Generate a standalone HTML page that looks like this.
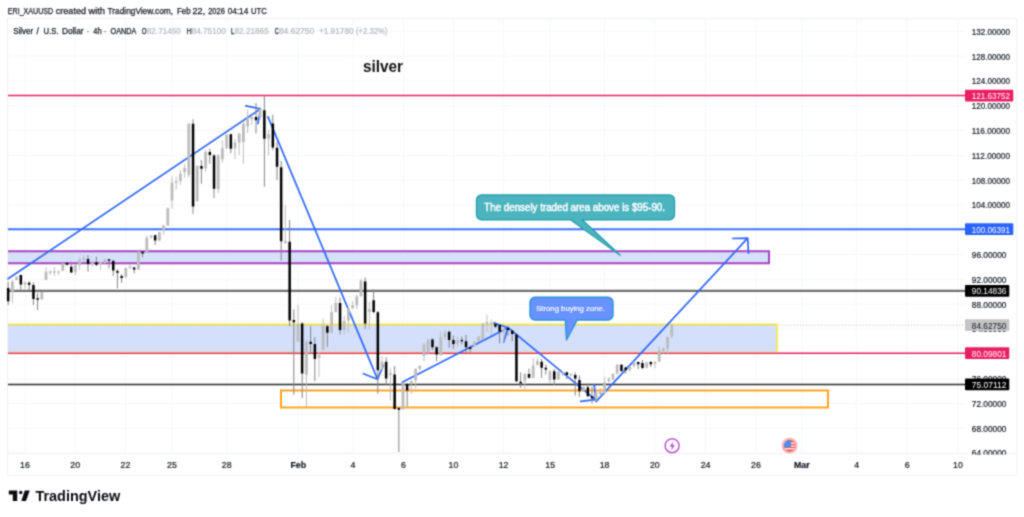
<!DOCTYPE html>
<html lang="en">
<head>
<meta charset="utf-8">
<title>Silver / U.S. Dollar chart</title>
<style>
html,body{margin:0;padding:0;background:#fff;}
body{width:1024px;height:517px;overflow:hidden;font-family:"Liberation Sans", sans-serif;}
svg{display:block;}
</style>
</head>
<body>
<svg width="1024" height="517" viewBox="0 0 1024 517">
<defs><filter id="soft" x="0" y="0" width="1024" height="517" filterUnits="userSpaceOnUse" color-interpolation-filters="sRGB"><feConvolveMatrix order="3" kernelMatrix="1 3 1 3 9 3 1 3 1" divisor="25" edgeMode="duplicate" preserveAlpha="false"/></filter></defs>
<g filter="url(#soft)">
<rect width="1024" height="517" fill="#fff"/>
<g stroke="#f6f7fa" stroke-width="1" fill="none"><line x1="25" y1="19" x2="25" y2="453.5"/><line x1="75.2" y1="19" x2="75.2" y2="453.5"/><line x1="125.5" y1="19" x2="125.5" y2="453.5"/><line x1="172" y1="19" x2="172" y2="453.5"/><line x1="226.7" y1="19" x2="226.7" y2="453.5"/><line x1="298.3" y1="19" x2="298.3" y2="453.5"/><line x1="353" y1="19" x2="353" y2="453.5"/><line x1="403.5" y1="19" x2="403.5" y2="453.5"/><line x1="453.5" y1="19" x2="453.5" y2="453.5"/><line x1="503.6" y1="19" x2="503.6" y2="453.5"/><line x1="550.2" y1="19" x2="550.2" y2="453.5"/><line x1="604.6" y1="19" x2="604.6" y2="453.5"/><line x1="654.8" y1="19" x2="654.8" y2="453.5"/><line x1="705.6" y1="19" x2="705.6" y2="453.5"/><line x1="756" y1="19" x2="756" y2="453.5"/><line x1="801.8" y1="19" x2="801.8" y2="453.5"/><line x1="856.6" y1="19" x2="856.6" y2="453.5"/><line x1="907.1" y1="19" x2="907.1" y2="453.5"/><line x1="957.9" y1="19" x2="957.9" y2="453.5"/><line x1="8" y1="453.0" x2="965" y2="453.0"/><line x1="8" y1="428.2" x2="965" y2="428.2"/><line x1="8" y1="403.4" x2="965" y2="403.4"/><line x1="8" y1="378.6" x2="965" y2="378.6"/><line x1="8" y1="353.8" x2="965" y2="353.8"/><line x1="8" y1="329.0" x2="965" y2="329.0"/><line x1="8" y1="304.2" x2="965" y2="304.2"/><line x1="8" y1="279.4" x2="965" y2="279.4"/><line x1="8" y1="254.6" x2="965" y2="254.6"/><line x1="8" y1="229.8" x2="965" y2="229.8"/><line x1="8" y1="205.0" x2="965" y2="205.0"/><line x1="8" y1="180.2" x2="965" y2="180.2"/><line x1="8" y1="155.4" x2="965" y2="155.4"/><line x1="8" y1="130.6" x2="965" y2="130.6"/><line x1="8" y1="105.8" x2="965" y2="105.8"/><line x1="8" y1="81.0" x2="965" y2="81.0"/><line x1="8" y1="56.1" x2="965" y2="56.1"/><line x1="8" y1="31.3" x2="965" y2="31.3"/></g>
<rect x="7.5" y="18.7" width="1009.2" height="456.8" fill="none" stroke="#eff1f4" stroke-width="1"/>
<line x1="8" y1="453.6" x2="1016" y2="453.6" stroke="#eff1f4"/>
<rect x="8" y="251.2" width="761" height="12" fill="#d6e0fb" stroke="none"/>
<rect x="8" y="324.4" width="769" height="28.5" fill="#d3dffb" stroke="none"/>
<path d="M8 251.2H769V263.2H8" fill="none" stroke="#a843be" stroke-width="2"/>
<rect x="281" y="390.5" width="547" height="17" fill="none" stroke="#ffa21f" stroke-width="2"/>
<line x1="8" y1="95.6" x2="966" y2="95.6" stroke-width="1.5" stroke="#e91e63" />
<line x1="8" y1="229.2" x2="966" y2="229.2" stroke-width="2.1" stroke="#3d70ff" />
<line x1="8" y1="290.8" x2="966" y2="290.8" stroke-width="2.2" stroke="#6e6e6e" />
<line x1="8" y1="353.2" x2="966" y2="353.2" stroke-width="1.5" stroke="#e91e63" />
<line x1="8" y1="384.4" x2="966" y2="384.4" stroke-width="1.5" stroke="#2a2a2a" />
<line x1="8" y1="325.2" x2="966" y2="325.2" stroke="#b8b8b8" stroke-width="1" stroke-dasharray="1 2"/>
<path d="M8 324.4H777V352.6" fill="none" stroke="#f6e640" stroke-width="1.6"/>
<path d="M8 352.3H777" fill="none" stroke="#f5c83c" stroke-width="1.2" opacity="0.55"/>
<g stroke="#2f67ff" stroke-width="1.7" fill="none" stroke-linecap="round" stroke-linejoin="round"><path d="M8.0 278.8L260.5 108.9M245.8 105.8L260.5 108.9L257.9 123.7"/><path d="M268.0 116.9L377.5 379.2M383.4 365.4L377.5 379.2L363.5 373.7"/><path d="M402.3 382.3L508.0 327.7M493.8 322.9L508.0 327.7L503.7 342.1"/><path d="M508.0 327.7L595.5 399.7M594.3 384.7L595.5 399.7L580.6 401.4"/><path d="M596.0 401.6L747.7 238.2M732.7 238.5L747.7 238.2L748.5 253.2"/></g>
<path d="M12.4 280.0V302.9M16.6 276.0V280.5M25.0 281.7V288.4M41.8 291.7V299.5M46.0 267.2V280.0M50.2 270.0V275.0M54.4 267.2V276.2M58.6 270.0V275.0M62.8 262.8V271.7M75.4 264.5V275.0M79.6 257.8V270.0M83.8 255.6V261.7M92.2 260.6V266.7M100.6 261.7V270.0M104.8 258.9V264.5M125.8 267.3V278.5M130.0 264.0V269.0M138.4 251.2V270.1M146.8 235.6V252.3M151.0 235.0V238.9M159.4 231.7V241.7M163.6 225.0V234.5M167.8 207.6V226.0M172.0 176.5V208.7M176.2 176.5V189.8M180.4 170.0V184.8M184.6 163.8V177.6M188.8 123.0V177.6M197.2 165.0V202.0M205.6 150.0V172.0M218.2 154.0V193.2M222.4 140.4V162.7M226.6 134.3V148.7M235.0 139.3V159.3M239.2 132.6V154.9M243.4 121.5V163.8M247.6 109.7V133.0M251.8 115.8V125.3M260.2 107.0V120.0M268.6 130.0V155.6M285.4 205.0V244.0M298.0 305.0V342.0M306.4 340.0V407.0M319.0 352.0V377.0M323.2 318.4V350.6M331.6 305.0V333.0M335.8 297.0V312.5M344.2 316.0V335.0M348.4 307.0V332.8M352.6 301.4V309.2M356.8 294.7V309.2M361.0 279.1V297.0M369.4 301.4V330.0M382.0 356.0V370.0M390.4 368.4V400.7M403.0 382.0V410.0M411.4 380.6V394.0M415.6 368.0V388.4M419.8 365.0V370.6M424.0 343.4V361.2M428.2 339.0V354.5M440.8 331.2V355.7M445.0 330.0V340.0M457.6 336.7V346.7M474.4 341.2V347.3M478.6 336.0V342.0M482.8 322.8V340.0M487.0 314.5V332.3M491.2 319.5V335.0M503.8 327.8V342.3M524.8 373.0V389.0M533.2 357.8V378.4M537.4 357.8V365.6M550.0 370.0V383.4M558.4 371.0V380.0M562.6 371.5V376.0M571.0 373.0V377.0M583.6 386.0V392.0M596.2 391.2V401.2M600.4 388.0V396.0M604.6 376.7V394.5M608.8 377.0V383.0M613.0 373.0V380.5M617.2 364.0V374.5M629.8 366.0V371.5M634.0 361.0V367.5M646.6 361.5V368.5M655.0 361.0V368.1M659.2 346.4V362.0M663.4 347.5V353.6M667.6 336.4V353.6M671.8 324.0V338.6" stroke="#bdbdbd" stroke-width="1" fill="none"/>
<path d="M8.2 281.7V305.1M20.8 274.5V289.5M29.2 281.2V290.6M33.4 282.3V305.0M37.6 292.9V310.0M67.0 262.2V265.6M71.2 264.5V272.8M88.0 255.0V271.7M96.4 256.7V266.1M109.0 259.0V268.4M113.2 259.5V276.2M117.4 269.0V288.4M121.6 274.0V283.0M134.2 266.8V273.4M142.6 250.6V257.3M155.2 234.5V245.0M193.0 119.2V213.8M201.4 160.0V183.7M209.8 148.7V163.8M214.0 154.0V198.2M230.8 133.7V153.2M256.0 103.0V133.6M264.4 95.2V186.7M272.8 114.7V150.0M277.0 142.0V180.0M281.2 161.0V260.6M289.6 220.0V326.2M293.8 309.5V394.7M302.2 322.0V398.0M310.6 326.2V354.0M314.8 337.3V381.4M327.4 325.0V346.8M340.0 297.5V334.5M365.2 277.5V329.0M373.6 289.2V313.4M377.8 311.0V393.6M386.2 357.2V385.0M394.6 366.0V409.5M398.8 407.0V452.0M407.2 383.0V406.4M432.4 338.4V350.0M436.6 346.0V361.2M449.2 330.6V347.9M453.4 335.6V349.0M461.8 336.7V344.5M466.0 335.0V352.9M470.2 345.6V352.3M495.4 322.0V328.0M499.6 323.9V343.4M508.0 326.7V335.6M512.2 330.0V341.2M516.4 333.0V382.0M520.6 372.3V387.9M529.0 368.4V378.4M541.6 359.0V377.8M545.8 364.5V374.5M554.2 369.0V385.0M566.8 371.7V379.0M575.2 372.3V395.7M579.4 375.6V396.8M587.8 383.4V396.8M592.0 386.7V403.5M621.4 364.0V372.0M625.6 366.5V373.7M638.2 361.5V369.2M642.4 359.8V369.2M650.8 361.0V367.0" stroke="#848484" stroke-width="1" fill="none"/>
<path d="M11.0 281.7h2.8V291.7h-2.8zM15.2 276.7h2.8V280.0h-2.8zM23.6 282.3h2.8V284.5h-2.8zM40.4 292.3h2.8V299.5h-2.8zM44.6 271.7h2.8V280.0h-2.8zM48.8 271.6h2.8V272.8h-2.8zM53.0 271.6h2.8V272.8h-2.8zM57.2 271.4h2.8V272.6h-2.8zM61.4 263.4h2.8V270.6h-2.8zM74.0 265.0h2.8V272.3h-2.8zM78.2 259.5h2.8V265.0h-2.8zM82.4 258.3h2.8V260.0h-2.8zM90.8 262.8h2.8V264.0h-2.8zM99.2 262.2h2.8V263.9h-2.8zM103.4 259.5h2.8V262.8h-2.8zM124.4 267.9h2.8V276.8h-2.8zM128.6 266.7h2.8V267.9h-2.8zM137.0 251.7h2.8V269.5h-2.8zM145.4 237.8h2.8V251.7h-2.8zM149.6 235.6h2.8V237.2h-2.8zM158.0 232.2h2.8V240.6h-2.8zM162.2 225.6h2.8V230.6h-2.8zM166.4 208.2h2.8V225.5h-2.8zM170.6 182.6h2.8V200.4h-2.8zM174.8 181.5h2.8V183.1h-2.8zM179.0 173.7h2.8V180.9h-2.8zM183.2 168.0h2.8V172.0h-2.8zM187.4 123.7h2.8V175.0h-2.8zM195.8 166.0h2.8V201.0h-2.8zM204.2 152.0h2.8V168.2h-2.8zM216.8 155.4h2.8V189.3h-2.8zM221.0 148.2h2.8V159.3h-2.8zM225.2 134.8h2.8V148.2h-2.8zM233.6 142.6h2.8V148.2h-2.8zM237.8 133.7h2.8V142.6h-2.8zM242.0 123.7h2.8V142.0h-2.8zM246.2 118.6h2.8V126.4h-2.8zM250.4 117.0h2.8V119.2h-2.8zM258.8 109.0h2.8V117.0h-2.8zM267.2 134.2h2.8V138.7h-2.8zM284.0 241.0h2.8V243.0h-2.8zM296.6 324.0h2.8V341.7h-2.8zM305.0 341.7h2.8V374.7h-2.8zM317.6 355.0h2.8V358.0h-2.8zM321.8 325.0h2.8V349.5h-2.8zM330.2 312.2h2.8V332.8h-2.8zM334.4 303.0h2.8V312.0h-2.8zM342.8 321.1h2.8V330.0h-2.8zM347.0 308.3h2.8V320.6h-2.8zM351.2 305.3h2.8V308.0h-2.8zM355.4 296.4h2.8V305.3h-2.8zM359.6 280.8h2.8V295.8h-2.8zM368.0 309.0h2.8V312.0h-2.8zM380.6 361.7h2.8V369.5h-2.8zM389.0 373.0h2.8V375.0h-2.8zM401.6 383.4h2.8V409.1h-2.8zM410.0 381.0h2.8V384.0h-2.8zM414.2 369.0h2.8V380.6h-2.8zM418.4 366.0h2.8V369.0h-2.8zM422.6 344.5h2.8V355.7h-2.8zM426.8 339.5h2.8V352.3h-2.8zM439.4 337.3h2.8V355.1h-2.8zM443.6 332.8h2.8V337.3h-2.8zM456.2 340.0h2.8V343.4h-2.8zM473.0 341.7h2.8V346.2h-2.8zM477.2 336.7h2.8V341.2h-2.8zM481.4 323.4h2.8V339.5h-2.8zM485.6 322.0h2.8V324.0h-2.8zM489.8 323.0h2.8V325.0h-2.8zM502.4 328.4h2.8V332.3h-2.8zM523.4 374.0h2.8V381.0h-2.8zM531.8 365.6h2.8V377.8h-2.8zM536.0 361.1h2.8V365.0h-2.8zM548.6 371.2h2.8V380.0h-2.8zM557.0 371.7h2.8V379.5h-2.8zM561.2 372.3h2.8V374.0h-2.8zM569.6 373.9h2.8V375.2h-2.8zM582.2 387.3h2.8V390.6h-2.8zM594.8 392.3h2.8V399.0h-2.8zM599.0 392.0h2.8V394.0h-2.8zM603.2 382.3h2.8V393.4h-2.8zM607.4 379.0h2.8V381.2h-2.8zM611.6 374.0h2.8V379.5h-2.8zM615.8 364.8h2.8V373.7h-2.8zM628.4 367.0h2.8V370.3h-2.8zM632.6 362.0h2.8V366.0h-2.8zM645.2 362.5h2.8V367.6h-2.8zM653.6 362.0h2.8V363.7h-2.8zM657.8 350.3h2.8V361.4h-2.8zM662.0 348.6h2.8V350.9h-2.8zM666.2 337.0h2.8V348.6h-2.8zM670.4 324.7h2.8V336.4h-2.8z" fill="#bcbcbc"/>
<path d="M6.9 287.9h2.5V301.2h-2.5zM19.6 275.0h2.5V284.5h-2.5zM27.9 282.8h2.5V284.8h-2.5zM32.2 285.0h2.5V299.0h-2.5zM36.4 298.2h2.5V299.8h-2.5zM65.8 262.8h2.5V264.8h-2.5zM70.0 266.7h2.5V272.6h-2.5zM86.8 258.9h2.5V263.9h-2.5zM95.2 262.2h2.5V264.8h-2.5zM107.8 259.2h2.5V260.8h-2.5zM112.0 261.1h2.5V270.6h-2.5zM116.2 271.1h2.5V272.7h-2.5zM120.4 276.0h2.5V278.0h-2.5zM132.9 267.6h2.5V269.5h-2.5zM141.3 251.7h2.5V253.4h-2.5zM153.9 235.2h2.5V240.6h-2.5zM191.8 123.7h2.5V206.5h-2.5zM200.2 166.0h2.5V168.8h-2.5zM208.6 152.0h2.5V154.9h-2.5zM212.8 155.4h2.5V188.7h-2.5zM229.6 134.3h2.5V148.7h-2.5zM254.8 117.0h2.5V120.3h-2.5zM263.1 110.3h2.5V138.7h-2.5zM271.6 123.6h2.5V147.6h-2.5zM275.8 147.8h2.5V166.7h-2.5zM279.9 167.3h2.5V241.2h-2.5zM288.4 241.8h2.5V320.6h-2.5zM292.6 320.0h2.5V322.3h-2.5zM300.9 323.4h2.5V373.6h-2.5zM309.4 341.7h2.5V344.0h-2.5zM313.6 344.0h2.5V359.0h-2.5zM326.1 326.2h2.5V332.8h-2.5zM338.8 303.0h2.5V330.0h-2.5zM363.9 281.4h2.5V323.4h-2.5zM372.4 300.3h2.5V312.0h-2.5zM376.6 312.2h2.5V370.2h-2.5zM384.9 361.7h2.5V378.4h-2.5zM393.4 374.5h2.5V409.1h-2.5zM397.6 408.0h2.5V409.7h-2.5zM405.9 384.0h2.5V390.6h-2.5zM431.2 339.5h2.5V347.3h-2.5zM435.4 347.3h2.5V354.5h-2.5zM447.9 331.7h2.5V340.0h-2.5zM452.2 340.0h2.5V344.0h-2.5zM460.6 340.0h2.5V341.2h-2.5zM464.8 341.2h2.5V347.3h-2.5zM468.9 347.3h2.5V349.0h-2.5zM494.2 323.9h2.5V326.7h-2.5zM498.4 325.0h2.5V331.7h-2.5zM506.8 327.8h2.5V330.0h-2.5zM511.0 330.6h2.5V334.0h-2.5zM515.2 334.5h2.5V381.2h-2.5zM519.4 381.7h2.5V383.4h-2.5zM527.8 374.0h2.5V377.8h-2.5zM540.4 361.7h2.5V367.8h-2.5zM544.6 367.8h2.5V369.5h-2.5zM553.0 371.2h2.5V379.5h-2.5zM565.6 372.3h2.5V375.0h-2.5zM574.0 375.0h2.5V378.4h-2.5zM578.2 380.0h2.5V391.2h-2.5zM586.6 387.3h2.5V396.2h-2.5zM590.8 396.2h2.5V398.4h-2.5zM620.2 364.8h2.5V370.9h-2.5zM624.4 367.5h2.5V370.3h-2.5zM637.0 362.0h2.5V364.2h-2.5zM641.2 363.1h2.5V368.1h-2.5zM649.6 362.0h2.5V364.2h-2.5z" fill="#000"/>

<path d="M481.5 195h188a5 5 0 0 1 5 5v14.8a5 5 0 0 1 -5 5h-87.3l38 35.4l-49.7 -35.4h-89a5 5 0 0 1 -5 -5v-14.8a5 5 0 0 1 5 -5z" fill="#4cb4bf" stroke="#27a0ae" stroke-width="1.4" stroke-linejoin="round"/>
<text x="484.3" y="210.8" font-family='"Liberation Sans", sans-serif' font-size="10" fill="#fff" stroke="#fff" stroke-width="0.45" textLength="180.7" lengthAdjust="spacingAndGlyphs">The densely traded area above is $95-90.</text>
<path d="M535 297.2h73a5 5 0 0 1 5 5v12.8a5 5 0 0 1 -5 5h-30.8l-10.7 20l-1.2 -20h-30.3a5 5 0 0 1 -5 -5v-12.8a5 5 0 0 1 5 -5z" fill="#6792ff" stroke="#2a93dc" stroke-width="1.4" stroke-linejoin="round"/>
<text x="536.2" y="311.2" font-family='"Liberation Sans", sans-serif' font-size="7.6" fill="#fff" stroke="#fff" stroke-width="0.15" textLength="68.8" lengthAdjust="spacingAndGlyphs">Strong buying zone.</text>
<clipPath id="axc"><rect x="960" y="19" width="60" height="435.6"/></clipPath>
<g font-family='"Liberation Sans", sans-serif' font-size="9" fill="#131722" stroke="#131722" stroke-width="0.2" clip-path="url(#axc)"><text x="971.8" y="456.4" textLength="34.6" lengthAdjust="spacingAndGlyphs">64.00000</text><text x="971.8" y="431.6" textLength="34.6" lengthAdjust="spacingAndGlyphs">68.00000</text><text x="971.8" y="406.8" textLength="34.6" lengthAdjust="spacingAndGlyphs">72.00000</text><text x="971.8" y="382.0" textLength="34.6" lengthAdjust="spacingAndGlyphs">76.00000</text><text x="971.8" y="357.2" textLength="34.6" lengthAdjust="spacingAndGlyphs">80.00000</text><text x="971.8" y="332.4" textLength="34.6" lengthAdjust="spacingAndGlyphs">84.00000</text><text x="971.8" y="307.6" textLength="34.6" lengthAdjust="spacingAndGlyphs">88.00000</text><text x="971.8" y="282.8" textLength="34.6" lengthAdjust="spacingAndGlyphs">92.00000</text><text x="971.8" y="258.0" textLength="34.6" lengthAdjust="spacingAndGlyphs">96.00000</text><text x="971.8" y="233.2" textLength="38.2" lengthAdjust="spacingAndGlyphs">100.00000</text><text x="971.8" y="208.4" textLength="38.2" lengthAdjust="spacingAndGlyphs">104.00000</text><text x="971.8" y="183.6" textLength="38.2" lengthAdjust="spacingAndGlyphs">108.00000</text><text x="971.8" y="158.8" textLength="38.2" lengthAdjust="spacingAndGlyphs">112.00000</text><text x="971.8" y="134.0" textLength="38.2" lengthAdjust="spacingAndGlyphs">116.00000</text><text x="971.8" y="109.2" textLength="38.2" lengthAdjust="spacingAndGlyphs">120.00000</text><text x="971.8" y="84.4" textLength="38.2" lengthAdjust="spacingAndGlyphs">124.00000</text><text x="971.8" y="59.5" textLength="38.2" lengthAdjust="spacingAndGlyphs">128.00000</text><text x="971.8" y="34.7" textLength="38.2" lengthAdjust="spacingAndGlyphs">132.00000</text></g>
<rect x="965" y="89.7" width="48.3" height="11.8" rx="1" fill="#e91e63"/><text x="971.8" y="98.9" font-family='"Liberation Sans", sans-serif' font-size="9" fill="#fff" textLength="38.2" lengthAdjust="spacingAndGlyphs">121.63752</text>
<rect x="965" y="223.3" width="48.3" height="11.8" rx="1" fill="#2962ff"/><text x="971.8" y="232.5" font-family='"Liberation Sans", sans-serif' font-size="9" fill="#fff" textLength="38.2" lengthAdjust="spacingAndGlyphs">100.06391</text>
<rect x="965" y="284.9" width="44.3" height="11.8" rx="1" fill="#000"/><text x="971.8" y="294.1" font-family='"Liberation Sans", sans-serif' font-size="9" fill="#fff" textLength="34.6" lengthAdjust="spacingAndGlyphs">90.14836</text>
<rect x="965" y="319.3" width="44.3" height="11.8" rx="1" fill="#c4c4c4"/><text x="971.8" y="328.5" font-family='"Liberation Sans", sans-serif' font-size="9" fill="#131722" textLength="34.6" lengthAdjust="spacingAndGlyphs">84.62750</text>
<rect x="965" y="347.3" width="44.3" height="11.8" rx="1" fill="#e91e63"/><text x="971.8" y="356.5" font-family='"Liberation Sans", sans-serif' font-size="9" fill="#fff" textLength="34.6" lengthAdjust="spacingAndGlyphs">80.09801</text>
<rect x="965" y="378.5" width="44.3" height="11.8" rx="1" fill="#000"/><text x="971.8" y="387.7" font-family='"Liberation Sans", sans-serif' font-size="9" fill="#fff" textLength="34.6" lengthAdjust="spacingAndGlyphs">75.07112</text>
<g font-family='"Liberation Sans", sans-serif' font-size="8.8" fill="#131722" stroke="#131722" stroke-width="0.2"><text x="25" y="468.4" text-anchor="middle">16</text><text x="75.2" y="468.4" text-anchor="middle">20</text><text x="125.5" y="468.4" text-anchor="middle">22</text><text x="172" y="468.4" text-anchor="middle">25</text><text x="226.7" y="468.4" text-anchor="middle">28</text><text x="298.3" y="468.4" text-anchor="middle" font-weight="bold">Feb</text><text x="353" y="468.4" text-anchor="middle">4</text><text x="403.5" y="468.4" text-anchor="middle">6</text><text x="453.5" y="468.4" text-anchor="middle">10</text><text x="503.6" y="468.4" text-anchor="middle">12</text><text x="550.2" y="468.4" text-anchor="middle">15</text><text x="604.6" y="468.4" text-anchor="middle">18</text><text x="654.8" y="468.4" text-anchor="middle">20</text><text x="705.6" y="468.4" text-anchor="middle">24</text><text x="756" y="468.4" text-anchor="middle">26</text><text x="801.8" y="468.4" text-anchor="middle" font-weight="bold">Mar</text><text x="856.6" y="468.4" text-anchor="middle">4</text><text x="907.1" y="468.4" text-anchor="middle">6</text><text x="957.9" y="468.4" text-anchor="middle">10</text></g>
<text y="14" font-family='"Liberation Sans", sans-serif' font-size="8.8"><tspan x="7.8" fill="#131722" stroke="#131722" stroke-width="0.25" textLength="45.4" lengthAdjust="spacingAndGlyphs">ERI_XAUUSD</tspan> <tspan x="55.8" fill="#131722" stroke="#131722" stroke-width="0.25" textLength="30.2" lengthAdjust="spacingAndGlyphs">created</tspan> <tspan x="88.4" fill="#131722" stroke="#131722" stroke-width="0.25" textLength="16.6" lengthAdjust="spacingAndGlyphs">with</tspan> <tspan x="107.6" fill="#131722" stroke="#131722" stroke-width="0.25" textLength="65.4" lengthAdjust="spacingAndGlyphs">TradingView.com,</tspan> <tspan x="176.9" fill="#131722" stroke="#131722" stroke-width="0.25" textLength="13.7" lengthAdjust="spacingAndGlyphs">Feb</tspan> <tspan x="192.5" fill="#131722" stroke="#131722" stroke-width="0.25" textLength="12.7" lengthAdjust="spacingAndGlyphs">22,</tspan> <tspan x="208.2" fill="#131722" stroke="#131722" stroke-width="0.25" textLength="16.6" lengthAdjust="spacingAndGlyphs">2026</tspan> <tspan x="227.7" fill="#131722" stroke="#131722" stroke-width="0.25" textLength="20.5" lengthAdjust="spacingAndGlyphs">04:14</tspan> <tspan x="251.1" fill="#131722" stroke="#131722" stroke-width="0.25" textLength="15.7" lengthAdjust="spacingAndGlyphs">UTC</tspan></text>
<text y="33.8" font-family='"Liberation Sans", sans-serif' font-size="8.8"><tspan x="13.2" fill="#131722" stroke="#131722" stroke-width="0.25" textLength="20.0" lengthAdjust="spacingAndGlyphs">Silver</tspan> <tspan x="36.6" fill="#131722" stroke="#131722" stroke-width="0.25" textLength="2.4" lengthAdjust="spacingAndGlyphs">/</tspan> <tspan x="43.5" fill="#131722" stroke="#131722" stroke-width="0.25" textLength="15.1" lengthAdjust="spacingAndGlyphs">U.S.</tspan> <tspan x="62" fill="#131722" stroke="#131722" stroke-width="0.25" textLength="21.5" lengthAdjust="spacingAndGlyphs">Dollar</tspan> <tspan x="87" fill="#131722" stroke="#131722" stroke-width="0.25" textLength="1.8" lengthAdjust="spacingAndGlyphs">·</tspan> <tspan x="93.2" fill="#131722" stroke="#131722" stroke-width="0.25" textLength="8.4" lengthAdjust="spacingAndGlyphs">4h</tspan> <tspan x="104" fill="#131722" stroke="#131722" stroke-width="0.25" textLength="1.8" lengthAdjust="spacingAndGlyphs">·</tspan> <tspan x="110.5" fill="#131722" stroke="#131722" stroke-width="0.25" textLength="25.4" lengthAdjust="spacingAndGlyphs">OANDA</tspan> <tspan x="141.8" fill="#131722" stroke="#131722" stroke-width="0.25" textLength="4.8" lengthAdjust="spacingAndGlyphs">O</tspan><tspan x="146.8" fill="#b4b7c0" stroke="#b4b7c0" stroke-width="0.2" textLength="34.0" lengthAdjust="spacingAndGlyphs">82.71450</tspan> <tspan x="186.7" fill="#131722" stroke="#131722" stroke-width="0.25" textLength="4.9" lengthAdjust="spacingAndGlyphs">H</tspan><tspan x="191.8" fill="#b4b7c0" stroke="#b4b7c0" stroke-width="0.2" textLength="33.9" lengthAdjust="spacingAndGlyphs">84.75100</tspan> <tspan x="231" fill="#131722" stroke="#131722" stroke-width="0.25" textLength="3.3" lengthAdjust="spacingAndGlyphs">L</tspan><tspan x="234.5" fill="#b4b7c0" stroke="#b4b7c0" stroke-width="0.2" textLength="34.2" lengthAdjust="spacingAndGlyphs">82.21865</tspan> <tspan x="274.7" fill="#131722" stroke="#131722" stroke-width="0.25" textLength="4.0" lengthAdjust="spacingAndGlyphs">C</tspan><tspan x="278.9" fill="#b4b7c0" stroke="#b4b7c0" stroke-width="0.2" textLength="35.4" lengthAdjust="spacingAndGlyphs">84.62750</tspan> <tspan x="318.9" fill="#b4b7c0" stroke="#b4b7c0" stroke-width="0.2" textLength="34.7" lengthAdjust="spacingAndGlyphs">+1.91780</tspan> <tspan x="356" fill="#b4b7c0" stroke="#b4b7c0" stroke-width="0.2" textLength="31.3" lengthAdjust="spacingAndGlyphs">(+2.32%)</tspan></text>
<text x="363" y="72" font-family='"Liberation Sans", sans-serif' font-size="16" font-weight="bold" fill="#111" textLength="40" lengthAdjust="spacingAndGlyphs">silver</text>
<circle cx="672.1" cy="445.7" r="7" fill="#fff" stroke="#bf5ad6" stroke-width="1.5"/><path d="M673.6 441.2l-3.9 5.2h2.6l-1.3 4.1l3.9 -5.2h-2.6z" fill="#a93bc4"/>
<clipPath id="flagc"><circle cx="789.6" cy="445.7" r="5.7"/></clipPath><circle cx="789.6" cy="445.7" r="7.9" fill="#fbb0b5"/><g clip-path="url(#flagc)"><rect x="783" y="439" width="14" height="14" fill="#f0504e"/><rect x="783" y="442.6" width="14" height="1.3" fill="#fff"/><rect x="783" y="445.4" width="14" height="1.3" fill="#fff"/><rect x="783" y="448.1" width="14" height="1.3" fill="#fff"/><rect x="783" y="439" width="8" height="8.3" fill="#4a8fe8"/></g>
<g fill="#0b0c10"><path d="M8.8 490.6H17.2V501H12.8V494.6H8.8z"/><circle cx="20.8" cy="492.5" r="1.7"/><path d="M24.8 490.6H29.7L26 501H21.3z"/></g>
<text x="35.4" y="501" font-family='"Liberation Sans", sans-serif' font-size="14.3" font-weight="bold" fill="#0b0c10" textLength="84.8" lengthAdjust="spacingAndGlyphs">TradingView</text>
</g>
</svg>
</body>
</html>
